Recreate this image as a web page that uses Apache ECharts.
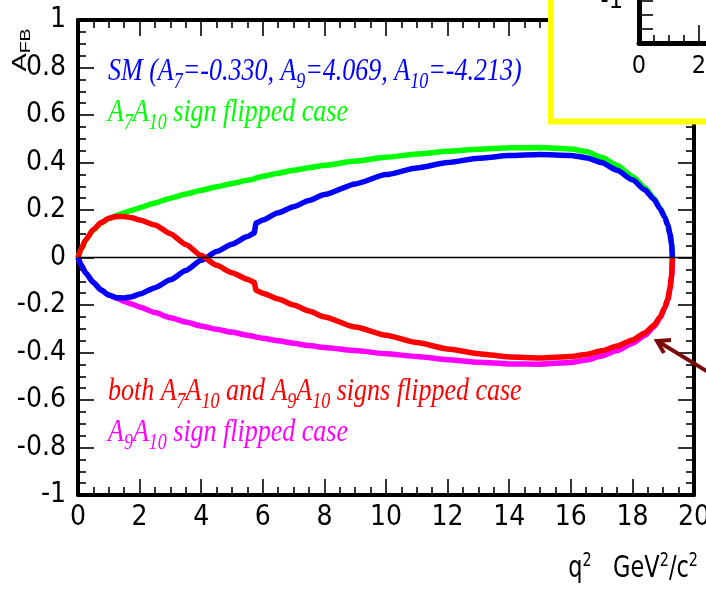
<!DOCTYPE html>
<html>
<head>
<meta charset="utf-8">
<script src="https://cdn.jsdelivr.net/npm/echarts/dist/echarts.min.js"></script>
<style>
  html, body { margin: 0; padding: 0; background: #ffffff; }
  #chart { width: 706px; height: 590px; }
</style>
</head>
<body>
<div id="chart"></div>
<script>
// q^2 sampling points (GeV^2/c^2); the pair 5.72/5.78 carries the small step in the curves
const q2 = [0, 0.1, 0.25, 0.5, 0.75, 1.0, 1.25, 1.5, 1.75, 2.0, 2.5, 3.0, 3.5, 4.0, 4.5, 5.0, 5.5, 5.72, 5.78,
  6.0, 6.5, 7.0, 7.5, 8.0, 9.0, 10.0, 11.0, 12.0, 13.0, 14.0, 15.0, 16.0, 16.5, 17.0, 17.5, 18.0,
  18.4, 18.7, 18.9, 19.05, 19.15, 19.22, 19.27, 19.3];

// A_FB, Standard Model
const afbSM = [0, -0.03, -0.065, -0.105, -0.137, -0.158, -0.169, -0.17, -0.165, -0.154, -0.127, -0.094, -0.055, -0.012,
  0.025, 0.056, 0.088, 0.103, 0.145, 0.158, 0.188, 0.214, 0.24, 0.265, 0.31, 0.349, 0.377, 0.4, 0.418, 0.429,
  0.434, 0.43, 0.42, 0.4, 0.367, 0.327, 0.285, 0.245, 0.205, 0.17, 0.135, 0.1, 0.06, 0];

// A_FB, A7A10 sign flipped
const afbA7A10 = [0, 0.035, 0.073, 0.115, 0.145, 0.163, 0.177, 0.188, 0.199, 0.21, 0.23, 0.25, 0.267, 0.283,
  0.298, 0.312, 0.325, 0.331, 0.335, 0.342, 0.355, 0.367, 0.378, 0.388, 0.406, 0.422, 0.436, 0.447, 0.456, 0.462,
  0.463, 0.457, 0.446, 0.422, 0.388, 0.342, 0.295, 0.25, 0.207, 0.171, 0.136, 0.1, 0.06, 0];

// A_FB, both A7A10 and A9A10 sign flipped
const afbBoth = [0, 0.035, 0.075, 0.118, 0.147, 0.165, 0.173, 0.173, 0.167, 0.158, 0.137, 0.1, 0.055, 0.008,
  -0.033, -0.064, -0.092, -0.104, -0.138, -0.15, -0.175, -0.2, -0.225, -0.25, -0.293, -0.327, -0.358, -0.385,
  -0.405, -0.419, -0.423, -0.417, -0.408, -0.393, -0.373, -0.347, -0.318, -0.285, -0.25, -0.21, -0.175, -0.13, -0.08, 0];

// A_FB, A9A10 sign flipped
const afbA9A10 = [0, -0.03, -0.065, -0.105, -0.137, -0.158, -0.172, -0.185, -0.196, -0.208, -0.232, -0.254, -0.272,
  -0.288, -0.302, -0.315, -0.327, -0.332, -0.335, -0.34, -0.351, -0.361, -0.371, -0.379, -0.392, -0.405, -0.417,
  -0.43, -0.441, -0.448, -0.449, -0.442, -0.432, -0.415, -0.392, -0.362, -0.328, -0.292, -0.255, -0.213, -0.177,
  -0.132, -0.081, 0];

// horizontal reference line at A_FB = 0
const zeroLineQ2 = [0, 20];
const zeroLineAfb = [0, 0];

// axis ranges and steps
const xRange = [0, 20], xStep = 2;
const yRange = [-1, 1], yStep = 0.2;
// partial inset axes peeking in at the top right
const insetXRange = [0, 4], insetXStep = 2, insetXLabels = [0, 2];
const insetYRange = [-1.3, 0], insetYStep = 0.1, insetYLabels = [-1];

const captions = {
  sm: '{n|SM (A}{s|7}{n|=-0.330, A}{s|9}{n|=4.069, A}{s|10}{n|=-4.213)}',
  a7a10: '{n|A}{s|7}{n|A}{s|10}{n| sign flipped case}',
  both: '{n|both A}{s|7}{n|A}{s|10}{n| and A}{s|9}{n|A}{s|10}{n| signs flipped case}',
  a9a10: '{n|A}{s|9}{n|A}{s|10}{n| sign flipped case}'
};

const pairs = (xs, ys) => xs.map((x, i) => [x, ys[i]]);

const sansNarrow = "'Liberation Sans Narrow', 'DejaVu Sans Condensed', 'Liberation Sans', sans-serif";
const sans = "'Liberation Sans', Arial, sans-serif";
const serif = "'Liberation Serif', 'DejaVu Serif', serif";

function frameAxis(extra) {
  return Object.assign({
    type: 'value',
    gridIndex: 0,
    axisLine: { show: true, onZero: false, lineStyle: { color: '#000', width: 4 } },
    axisTick: { show: true, inside: true, length: 16, lineStyle: { color: '#000', width: 1.6 } },
    minorTick: { show: true, splitNumber: 4, length: 8, lineStyle: { color: '#000', width: 1.6 } },
    splitLine: { show: false },
    minorSplitLine: { show: false }
  }, extra);
}

// italic serif caption; subscripts are pushed down with top padding
function caption(x, y, text, color) {
  const base = { fontFamily: serif, fontStyle: 'italic', color: color };
  return {
    type: 'text', x: x, y: y, scaleY: 1.25, z: 20,
    style: {
      text: text, fill: color, align: 'left', verticalAlign: 'middle',
      font: 'italic 26px ' + serif,
      rich: {
        n: Object.assign({ fontSize: 26, lineHeight: 30 }, base),
        s: Object.assign({ fontSize: 18, lineHeight: 14, padding: [18, 0, 0, 0] }, base)
      }
    }
  };
}

function curve(name, ys, color) {
  return {
    name: name, type: 'line', xAxisIndex: 0, yAxisIndex: 0,
    data: pairs(q2, ys), showSymbol: false, symbol: 'none',
    smooth: 0.2, smoothMonotone: 'x',
    lineStyle: { color: color, width: 5.5 }, itemStyle: { color: color },
    z: 2, silent: true
  };
}

const chart = echarts.init(document.getElementById('chart'), null, { renderer: 'canvas' });

chart.setOption({
  animation: false,
  backgroundColor: '#ffffff',
  grid: [
    { left: 78, right: 12, top: 20, bottom: 95, containLabel: false, outerBoundsMode: 'none' },
    { left: 639, right: -53, top: -139, bottom: 547, containLabel: false, outerBoundsMode: 'none' }
  ],
  xAxis: [
    frameAxis({
      position: 'bottom', min: xRange[0], max: xRange[1], interval: xStep,
      axisLabel: { show: true, fontFamily: sansNarrow, fontSize: 28, color: '#000', margin: 9 }
    }),
    frameAxis({
      position: 'top', min: xRange[0], max: xRange[1], interval: xStep,
      axisLabel: { show: false }
    }),
    {
      type: 'value', gridIndex: 1, position: 'bottom', z: 60,
      min: insetXRange[0], max: insetXRange[1], interval: insetXStep,
      axisLine: { show: true, onZero: false, lineStyle: { color: '#000', width: 5 } },
      axisTick: { show: true, inside: true, length: 18, lineStyle: { color: '#000', width: 1.6 } },
      minorTick: { show: true, splitNumber: 4, length: 8, lineStyle: { color: '#000', width: 1.6 } },
      splitLine: { show: false },
      axisLabel: {
        fontFamily: sansNarrow, fontSize: 25, color: '#000', margin: 11,
        formatter: v => insetXLabels.some(t => Math.abs(t - v) < 1e-6) ? String(v) : ''
      }
    }
  ],
  yAxis: [
    frameAxis({
      position: 'left', min: yRange[0], max: yRange[1], interval: yStep,
      axisLabel: { show: true, fontFamily: sansNarrow, fontSize: 28, color: '#000', margin: 12 }
    }),
    frameAxis({
      position: 'right', min: yRange[0], max: yRange[1], interval: yStep,
      axisLabel: { show: false }
    }),
    {
      type: 'value', gridIndex: 1, position: 'left', z: 60,
      min: insetYRange[0], max: insetYRange[1], interval: insetYStep,
      axisLine: { show: true, onZero: false, lineStyle: { color: '#000', width: 5 } },
      axisTick: { show: true, inside: true, length: 14, lineStyle: { color: '#000', width: 1.6 } },
      splitLine: { show: false },
      axisLabel: {
        fontFamily: sansNarrow, fontSize: 25, color: '#000', margin: 16,
        formatter: v => insetYLabels.some(t => Math.abs(t - v) < 1e-6) ? String(Math.round(v)) : ''
      }
    }
  ],
  series: [
    curve('A7A10 sign flipped', afbA7A10, '#00ff00'),
    curve('A9A10 sign flipped', afbA9A10, '#ff00ff'),
    curve('SM', afbSM, '#0000ff'),
    curve('both flipped', afbBoth, '#ff0000'),
    {
      name: 'zero', type: 'line', xAxisIndex: 0, yAxisIndex: 0,
      data: pairs(zeroLineQ2, zeroLineAfb), showSymbol: false, symbol: 'none',
      lineStyle: { color: '#000', width: 1.4 }, z: 5, silent: true
    }
  ],
  graphic: [
    // yellow-framed inset box covering the top right corner
    {
      type: 'rect', z: 50,
      shape: { x: 551, y: -10, width: 200, height: 131.5 },
      style: { fill: '#ffffff', stroke: '#ffff00', lineWidth: 6 }
    },
    caption(108, 71, captions.sm, '#0000ff'),
    caption(108, 112, captions.a7a10, '#00ff00'),
    caption(108, 391, captions.both, '#ff0000'),
    caption(108, 432, captions.a9a10, '#ff00ff'),
    // y axis title A_FB
    {
      type: 'text', x: 20, y: 50, rotation: Math.PI / 2, scaleX: 1.3, z: 20,
      style: {
        text: '{a|A}{s|FB}', fill: '#000', align: 'center', verticalAlign: 'middle',
        rich: {
          a: { fontFamily: sans, fontSize: 21, lineHeight: 24, color: '#000' },
          s: { fontFamily: sans, fontSize: 15, lineHeight: 12, padding: [12, 0, 0, 0], color: '#000' }
        }
      }
    },
    // x axis title
    {
      type: 'text', x: 698, y: 569, scaleY: 1.2, z: 20,
      style: {
        text: '{n|q}{p|2}{n|   GeV}{p|2}{n|/c}{p|2}', fill: '#000', align: 'right', verticalAlign: 'middle',
        rich: {
          n: { fontFamily: sansNarrow, fontSize: 25, lineHeight: 30, color: '#000' },
          p: { fontFamily: sansNarrow, fontSize: 16, lineHeight: 6, verticalAlign: 'top', color: '#000' }
        }
      }
    },
    // pointer arrow at the right edge
    {
      type: 'polyline', z: 20,
      shape: { points: [[708, 372], [659, 342]] },
      style: { stroke: '#7a0a0a', lineWidth: 4, fill: null }
    },
    {
      type: 'polyline', z: 20,
      shape: { points: [[671, 340], [657, 341], [664, 353]] },
      style: { stroke: '#7a0a0a', lineWidth: 4, fill: null, lineJoin: 'miter' }
    }
  ]
});
</script>
</body>
</html>
